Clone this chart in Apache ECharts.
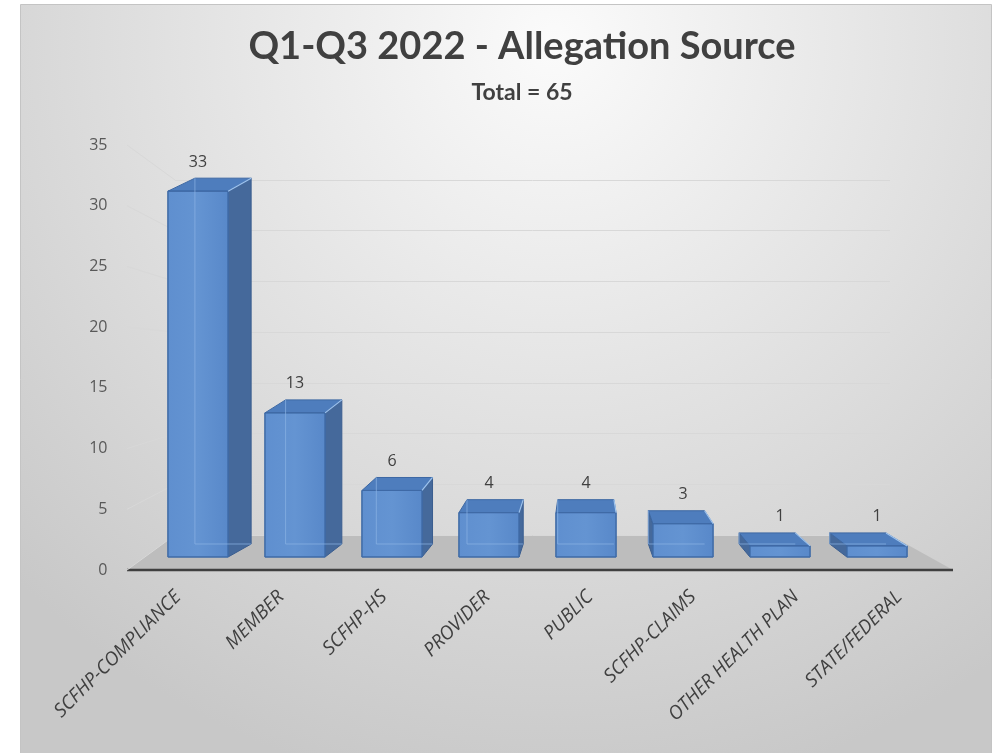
<!DOCTYPE html>
<html>
<head>
<meta charset="utf-8">
<script src="https://cdn.jsdelivr.net/npm/echarts@6/dist/echarts.min.js"></script>
<style>
html,body{margin:0;padding:0;background:#ffffff;}
#chart{width:994px;height:753px;}
</style>
</head>
<body>
<div id="chart"></div>
<script>
// ---- data ----
const titleText = 'Q1-Q3 2022 - Allegation Source';
const subtitleText = 'Total = 65';
const categories = ['SCFHP-COMPLIANCE', 'MEMBER', 'SCFHP-HS', 'PROVIDER', 'PUBLIC', 'SCFHP-CLAIMS', 'OTHER HEALTH PLAN', 'STATE/FEDERAL'];
const values = [33, 13, 6, 4, 4, 3, 1, 1];
const yMin = 0;
const yMax = 35;
const yInterval = 5;
const yTicks = [0, 5, 10, 15, 20, 25, 30, 35];

// ---- pseudo-3D styling ----
const VP_X = 583;      // horizontal vanishing point
const DEPTH_K = 0.065; // depth factor
const DEPTH_Y = 13;    // vertical depth shift

const chart = echarts.init(document.getElementById('chart'), null, {renderer: 'canvas'});

function depthOff(x) { return DEPTH_K * (VP_X - x); }

function renderBar(params, api) {
  const i = api.value(0), v = api.value(1);
  const base = api.coord([i, 0]);
  const top = api.coord([i, v]);
  const w = api.size([1, 0])[0] * 0.62;
  const x0 = base[0] - w / 2, x1 = base[0] + w / 2;
  const yb = base[1], yt = top[1];
  const o0 = depthOff(x0), o1 = depthOff(x1);
  const dy = -DEPTH_Y;
  const children = [];
  if (o1 > 0) {
    children.push({type: 'polygon', shape: {points: [[x1, yt], [x1 + o1, yt + dy], [x1 + o1, yb + dy], [x1, yb]]},
      style: {fill: '#45699b', stroke: '#3a5d8f', lineWidth: 1}});
  }
  if (o0 < 0) {
    children.push({type: 'polygon', shape: {points: [[x0, yt], [x0 + o0, yt + dy], [x0 + o0, yb + dy], [x0, yb]]},
      style: {fill: '#45699b', stroke: '#3a5d8f', lineWidth: 1}});
  }
  children.push({type: 'polygon', shape: {points: [[x0, yt], [x1, yt], [x1 + o1, yt + dy], [x0 + o0, yt + dy]]},
    style: {fill: '#4e7dbd', stroke: '#3d68a3', lineWidth: 1}});
  children.push({type: 'rect', shape: {x: x0, y: yt, width: w, height: yb - yt},
    style: {fill: new echarts.graphic.LinearGradient(0, 0, 1, 0, [
      {offset: 0, color: '#5f8fcf'}, {offset: 0.5, color: '#6494d2'}, {offset: 1, color: '#5888c9'}]),
      stroke: '#3f6aa6', lineWidth: 1}});
  children.push({type: 'polyline', shape: {points: [[x0 + o0, yt + dy], [x0 + o0, yb + dy], [x1 + o1, yb + dy]]},
    style: {stroke: 'rgba(140,180,228,0.7)', lineWidth: 1, fill: null}});
  children.push({type: 'line', shape: {x1: x1, y1: yt, x2: x1 + o1, y2: yt + dy},
    style: {stroke: '#9fc4ee', lineWidth: 1.2}});
  children.push({type: 'text', style: {x: base[0], y: yt - 29, text: String(v), fill: '#404040',
    font: '16px "Open Sans", sans-serif', align: 'center', verticalAlign: 'middle'}});
  return {type: 'group', children: children};
}

const option = {
  backgroundColor: '#ffffff',
  animation: false,
  title: [{
    text: titleText,
    left: 517, top: 23, textAlign: 'center',
    textStyle: {fontFamily: 'Lato', fontWeight: 'bold', fontSize: 38, color: '#404040'}
  }, {
    text: subtitleText,
    left: 517, top: 76, textAlign: 'center',
    textStyle: {fontFamily: 'Lato', fontWeight: 'bold', fontSize: 23, color: '#404040'}
  }],
  grid: [
    {left: 126.5, width: 824, top: 145, bottom: 183, containLabel: false},
    {left: 149.5, width: 776, top: 169, bottom: 196, containLabel: false},
    {left: 175, right: 104, top: 180, bottom: 218, containLabel: false}
  ],
  xAxis: [
    {gridIndex: 0, type: 'category', data: categories,
      axisLine: {show: false}, axisTick: {show: false},
      axisLabel: {interval: 0, rotate: 45, margin: 24, color: '#404040', fontSize: 19,
        fontStyle: 'italic', fontFamily: '"Open Sans", sans-serif'}},
    {gridIndex: 1, type: 'category', data: categories, show: false},
    {gridIndex: 2, type: 'value', min: 0, max: 1, show: false}
  ],
  yAxis: [
    {gridIndex: 0, type: 'value', min: yMin, max: yMax, interval: yInterval,
      axisLine: {show: false}, axisTick: {show: false}, splitLine: {show: false},
      axisLabel: {margin: 19, color: '#595959', fontSize: 16, fontFamily: '"Open Sans", sans-serif'}},
    {gridIndex: 1, type: 'value', min: yMin, max: yMax, interval: yInterval, show: false},
    {gridIndex: 2, type: 'value', min: yMin, max: yMax, interval: yInterval,
      axisLine: {show: false}, axisTick: {show: false}, axisLabel: {show: false},
      splitLine: {show: true, lineStyle: {color: '#d8d8d8', width: 1}}}
  ],
  series: [{
    type: 'custom',
    xAxisIndex: 1, yAxisIndex: 1,
    renderItem: renderBar,
    data: values.map((v, i) => [i, v]),
    z: 5
  }]
};
chart.setOption(option);

const sideLines = yTicks.map(t => {
  const yf = chart.convertToPixel({yAxisIndex: 0}, t);
  const yb = chart.convertToPixel({yAxisIndex: 2}, t);
  return {type: 'line', z: -5, shape: {x1: 127, y1: yf, x2: 175, y2: yb},
    style: {stroke: '#d8d8d8', lineWidth: 1}};
});
const floorFront = chart.convertToPixel({yAxisIndex: 0}, 0);
const floorBack = chart.convertToPixel({yAxisIndex: 2}, 0);
chart.setOption({
  graphic: [
    {type: 'rect', z: -20, shape: {x: 20.5, y: 4.5, width: 971, height: 760},
      style: {fill: new echarts.graphic.RadialGradient(0.55, 0.05, 1.0, [
        {offset: 0, color: '#fbfbfb'}, {offset: 0.45, color: '#e4e4e4'}, {offset: 1, color: '#c8c8c8'}]),
        stroke: '#c4c4c4', lineWidth: 1}},
    {type: 'polygon', z: -10, shape: {points: [[127, floorFront], [953, floorFront], [890, floorBack], [175, floorBack]]},
      style: {fill: '#bdbdbd'}},
    {type: 'line', z: -9, shape: {x1: 127, y1: floorFront, x2: 953, y2: floorFront},
      style: {stroke: '#3f3f3f', lineWidth: 2.5}}
  ].concat(sideLines)
});
</script>
</body>
</html>
